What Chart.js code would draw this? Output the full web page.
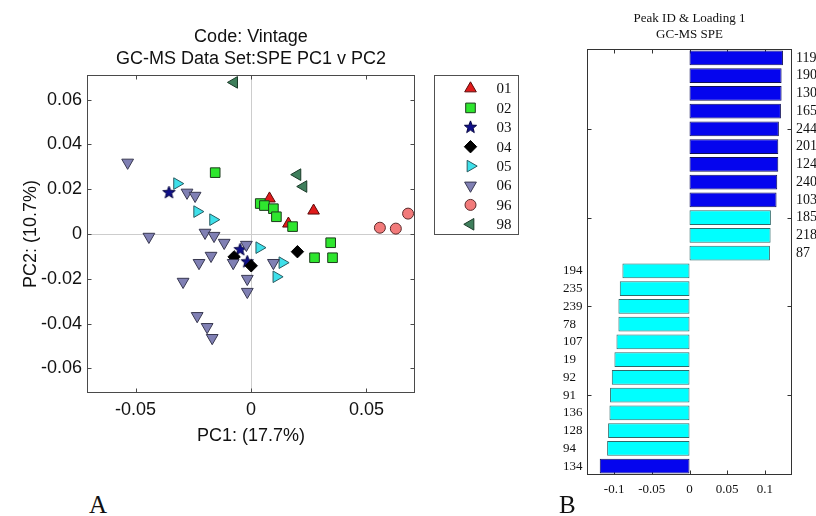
<!DOCTYPE html>
<html>
<head>
<meta charset="utf-8">
<script src="https://cdn.jsdelivr.net/npm/chart.js@4.4.1/dist/chart.umd.min.js"></script>
<style>
  html, body { margin: 0; padding: 0; background: #fff; overflow: hidden; width: 816px; height: 516px; }
  #pcaWrap { position: absolute; left: 0; top: 0; width: 530px; height: 460px; }
  #loadWrap { position: absolute; left: 540px; top: 0; width: 300px; height: 516px; }
  .panel { position: absolute; font-family: "Liberation Serif", serif; font-size: 25px; color: #111; line-height: 1; }
</style>
</head>
<body>
<div id="pcaWrap"><canvas id="pcaChart" width="530" height="460"></canvas></div>
<div id="loadWrap"><canvas id="loadChart" width="300" height="516"></canvas></div>
<div class="panel" style="left:89px; top:492px;">A</div>
<div class="panel" style="left:559px; top:492px;">B</div>
<script>
// ---------- Panel A : PC1 v PC2 scores ----------
const groupNames = ['01', '02', '03', '04', '05', '06', '96', '98'];
const g01 = [[0.0080, 0.0158], [0.0271, 0.0104], [0.0162, 0.0046]];
const g02 = [[-0.0155, 0.0274], [0.0040, 0.0136], [0.0058, 0.0127], [0.0097, 0.0113], [0.0110, 0.0077],
             [0.0180, 0.0033], [0.0345, -0.0039], [0.0275, -0.0106], [0.0353, -0.0106]];
const g03 = [[-0.0355, 0.0185], [-0.0047, -0.0070], [-0.0016, -0.0124]];
const g04 = [[-0.0073, -0.0102], [0.0001, -0.0142], [0.0201, -0.0079]];
const g05 = [[-0.0320, 0.0225], [-0.0233, 0.0100], [-0.0164, 0.0064], [0.0036, -0.0061], [0.0136, -0.0128], [0.0110, -0.0191]];
const g06 = [[-0.0534, 0.0319], [-0.0277, 0.0185], [-0.0242, 0.0171], [-0.0442, -0.0012], [-0.0199, 0.0006],
             [-0.0160, -0.0008], [-0.0116, -0.0039], [-0.0020, -0.0048], [-0.0173, -0.0097], [-0.0225, -0.0129],
             [-0.0077, -0.0129], [0.0097, -0.0129], [-0.0294, -0.0213], [-0.0016, -0.0200], [-0.0016, -0.0258],
             [-0.0233, -0.0366], [-0.0190, -0.0415], [-0.0168, -0.0464]];
const g96 = [[0.0558, 0.0028], [0.0627, 0.0024], [0.0680, 0.0091]];
const g98 = [[-0.0073, 0.0677], [0.0201, 0.0265], [0.0227, 0.0212]];
const groupScores = [g01, g02, g03, g04, g05, g06, g96, g98];

const pcRange = [-0.071, 0.071];
const pcXTicks = [-0.05, 0, 0.05];
const pcYTicks = [-0.06, -0.04, -0.02, 0, 0.02, 0.04, 0.06];

// ---------- Panel B : loading 1 ----------
const peakIds = ['119', '190', '130', '165', '244', '201', '124', '240', '103', '185', '218', '87',
                 '194', '235', '239', '78', '107', '19', '92', '91', '136', '128', '94', '134'];
const loadings = [0.1240, 0.1222, 0.1222, 0.1213, 0.1186, 0.1178, 0.1178, 0.1164, 0.1155, 0.1080, 0.1076, 0.1067,
                  -0.0890, -0.0925, -0.0943, -0.0943, -0.0969, -0.0996, -0.1031, -0.1054, -0.1062, -0.1080, -0.1093, -0.1191];
const loadRange = [-0.136, 0.136];
const loadXTicks = [-0.1, -0.05, 0, 0.05, 0.1];
const loadYTickIdx = [5, 10, 15, 20];

function makeStar(r, fill, edge) {
    const c = document.createElement('canvas');
    const s = Math.ceil(r * 2 + 4);
    c.width = s; c.height = s;
    const g = c.getContext('2d');
    g.beginPath();
    for (let k = 0; k < 10; k++) {
        const rr = k % 2 ? r * 0.42 : r;
        const a = -Math.PI / 2 + k * Math.PI / 5;
        g.lineTo(s / 2 + rr * Math.cos(a), s / 2 + rr * Math.sin(a));
    }
    g.closePath();
    g.fillStyle = fill; g.fill();
    g.strokeStyle = edge; g.lineWidth = 1; g.stroke();
    return c;
}

const groupStyles = [
    { pointStyle: 'triangle', rotation: 0,   radius: 6.7, fill: '#e01b1b', edge: '#5a0a0a' },
    { pointStyle: 'rect',     rotation: 0,   radius: 6.8, fill: '#2ee62e', edge: '#1c3c1c' },
    { pointStyle: makeStar(6.5, '#10108a', '#000040'), rotation: 0, radius: 6, fill: '#10108a', edge: '#000040' },
    { pointStyle: 'rectRot',  rotation: 0,   radius: 6.2, fill: '#000000', edge: '#000000' },
    { pointStyle: 'triangle', rotation: 90,  radius: 6.7, fill: '#3ee0ea', edge: '#2a5a60' },
    { pointStyle: 'triangle', rotation: 180, radius: 6.8, fill: '#8080b4', edge: '#383850' },
    { pointStyle: 'circle',   rotation: 0,   radius: 5.5, fill: '#f27a7a', edge: '#5a2a2a' },
    { pointStyle: 'triangle', rotation: -90, radius: 6.7, fill: '#3f7f5c', edge: '#1a3a28' }
];

const sansFont = (size) => ({ family: 'Liberation Sans', size: size, lineHeight: 1.2 });
const serifFont = (size, lh) => ({ family: 'Liberation Serif', size: size, lineHeight: lh || 1.2 });

const pcaDatasets = groupScores.map((pts, i) => ({
    label: groupNames[i],
    data: pts.map(p => ({ x: p[0], y: p[1] })),
    pointStyle: groupStyles[i].pointStyle,
    pointRotation: groupStyles[i].rotation,
    pointRadius: groupStyles[i].radius,
    pointHoverRadius: groupStyles[i].radius,
    backgroundColor: groupStyles[i].fill,
    borderColor: groupStyles[i].edge,
    borderWidth: 1,
    order: groupScores.length - i
}));

const pcaDecor = {
    id: 'pcaDecor',
    afterDatasetsDraw(chart) {
        const { ctx, chartArea: a, scales: { x, y } } = chart;
        const L = Math.round(a.left) + 0.5, R = Math.round(a.right) - 0.5;
        const T = Math.round(a.top) + 0.5, B = Math.round(a.bottom) - 0.5;
        ctx.save();
        ctx.strokeStyle = '#4a4a4a';
        ctx.lineWidth = 1;
        ctx.beginPath();
        pcXTicks.forEach(v => {
            const px = Math.round(x.getPixelForValue(v)) + 0.5;
            ctx.moveTo(px, B); ctx.lineTo(px, B - 4);
            ctx.moveTo(px, T); ctx.lineTo(px, T + 4);
        });
        pcYTicks.forEach(v => {
            const py = Math.round(y.getPixelForValue(v)) + 0.5;
            ctx.moveTo(L, py); ctx.lineTo(L + 4, py);
            ctx.moveTo(R, py); ctx.lineTo(R - 4, py);
        });
        ctx.stroke();
        ctx.strokeRect(L, T, R - L, B - T);

        // legend box, MATLAB style
        const lx = Math.round(a.right) + 19.5, ly = T, lw = 84, lh = 159;
        ctx.strokeStyle = '#505050';
        ctx.strokeRect(lx, ly, lw, lh);
        ctx.font = '15px "Liberation Serif"';
        ctx.textBaseline = 'middle';
        ctx.textAlign = 'left';
        groupNames.forEach((name, i) => {
            const st = groupStyles[i];
            const cy = ly + 13 + i * 19.4;
            ctx.fillStyle = st.fill;
            ctx.strokeStyle = st.edge;
            ctx.lineWidth = 1;
            Chart.helpers.drawPoint(ctx, { pointStyle: st.pointStyle, rotation: st.rotation, radius: st.radius, borderWidth: 1 }, lx + 36, cy);
            ctx.fillStyle = '#111';
            ctx.fillText(name, lx + 62, cy + 1);
        });
        ctx.restore();
    }
};

new Chart(document.getElementById('pcaChart'), {
    type: 'scatter',
    data: { datasets: pcaDatasets },
    options: {
        responsive: false,
        animation: false,
        devicePixelRatio: 1,
        layout: { padding: { left: 0, right: 115, top: 0, bottom: 0 } },
        plugins: {
            legend: { display: false },
            tooltip: { enabled: false },
            title: {
                display: true,
                text: ['Code: Vintage', 'GC-MS Data Set:SPE PC1 v PC2'],
                fullSize: false,
                color: '#111',
                font: { family: 'Liberation Sans', size: 18, weight: 'normal', lineHeight: 1.25 },
                padding: { top: 25.5, bottom: 4.5 }
            }
        },
        scales: {
            x: {
                type: 'linear', min: pcRange[0], max: pcRange[1],
                afterBuildTicks: s => { s.ticks = pcXTicks.map(v => ({ value: v })); },
                afterFit: s => { s.height = 67; },
                grid: { drawTicks: false, color: c => (c.tick && c.tick.value === 0) ? '#cdcdcd' : 'rgba(0,0,0,0)' },
                border: { display: false },
                ticks: { padding: 6, color: '#111', font: sansFont(18), callback: v => String(v) },
                title: { display: true, text: 'PC1: (17.7%)', color: '#111', font: sansFont(18), padding: { top: 0, bottom: 13 } }
            },
            y: {
                type: 'linear', min: pcRange[0], max: pcRange[1],
                afterBuildTicks: s => { s.ticks = pcYTicks.map(v => ({ value: v })); },
                afterFit: s => { s.width = 87; },
                grid: { drawTicks: false, color: c => (c.tick && c.tick.value === 0) ? '#cdcdcd' : 'rgba(0,0,0,0)' },
                border: { display: false },
                ticks: { padding: 5, color: '#111', font: sansFont(18), callback: v => String(v) },
                title: { display: true, text: 'PC2: (10.7%)', color: '#111', font: sansFont(18), padding: { top: 20, bottom: 0 } }
            }
        }
    },
    plugins: [pcaDecor]
});

// top ten |loading| are drawn dark blue, the rest cyan
const rankOrder = loadings.map((v, i) => i).sort((a, b) => Math.abs(loadings[b]) - Math.abs(loadings[a]));
const isStrong = i => rankOrder.indexOf(i) < 10;

const loadDecor = {
    id: 'loadDecor',
    beforeDatasetsDraw(chart) {
        const { ctx, chartArea: a, scales: { x, y } } = chart;
        const L = Math.round(a.left) + 0.5, R = Math.round(a.right) - 0.5;
        const T = Math.round(a.top) + 0.5, B = Math.round(a.bottom) - 0.5;
        ctx.save();
        ctx.strokeStyle = '#333';
        ctx.lineWidth = 1;
        ctx.beginPath();
        loadXTicks.forEach(v => {
            const px = Math.round(x.getPixelForValue(v)) + 0.5;
            ctx.moveTo(px, T); ctx.lineTo(px, T + 4);
            ctx.moveTo(px, B); ctx.lineTo(px, B - 4);
        });
        loadYTickIdx.forEach(k => {
            const py = Math.round(y.getPixelForValue(k - 1)) + 0.5;
            ctx.moveTo(L, py); ctx.lineTo(L + 4, py);
            ctx.moveTo(R, py); ctx.lineTo(R - 4, py);
        });
        ctx.stroke();
        ctx.restore();
    },
    afterDatasetsDraw(chart) {
        const { ctx, chartArea: a } = chart;
        const L = Math.round(a.left) + 0.5, R = Math.round(a.right) - 0.5;
        const T = Math.round(a.top) + 0.5, B = Math.round(a.bottom) - 0.5;
        ctx.save();
        ctx.strokeStyle = '#333';
        ctx.lineWidth = 1;
        ctx.strokeRect(L, T, R - L, B - T);
        ctx.restore();
    }
};

new Chart(document.getElementById('loadChart'), {
    type: 'bar',
    data: {
        labels: peakIds,
        datasets: [{
            data: loadings,
            backgroundColor: c => isStrong(c.dataIndex) ? '#0505ee' : '#00ffff',
            borderColor: c => isStrong(c.dataIndex) ? '#10105a' : '#2f6a6a',
            borderWidth: 1,
            borderSkipped: false,
            barPercentage: 0.83,
            categoryPercentage: 1
        }]
    },
    options: {
        indexAxis: 'y',
        responsive: false,
        animation: false,
        devicePixelRatio: 1,
        layout: { padding: { left: 23, right: 0, top: 0, bottom: 0 } },
        plugins: {
            legend: { display: false },
            tooltip: { enabled: false },
            title: {
                display: true,
                text: ['Peak ID & Loading 1', 'GC-MS SPE'],
                fullSize: false,
                color: '#111',
                font: { family: 'Liberation Serif', size: 13, weight: 'normal', lineHeight: 1.23 },
                padding: { top: 11, bottom: 6 }
            }
        },
        scales: {
            x: {
                type: 'linear', min: loadRange[0], max: loadRange[1],
                afterBuildTicks: s => { s.ticks = loadXTicks.map(v => ({ value: v })); },
                afterFit: s => { s.height = 41; },
                grid: { display: false, drawTicks: false },
                border: { display: false },
                ticks: { padding: 7, color: '#111', font: serifFont(13), callback: v => String(v) }
            },
            y: {
                type: 'category', position: 'left',
                afterFit: s => { s.width = 24; },
                grid: { display: false, drawTicks: false },
                border: { display: false },
                ticks: { autoSkip: false, crossAlign: 'far', padding: 0, color: '#111', font: serifFont(13),
                         callback: (v, i) => loadings[i] < 0 ? peakIds[i] : '' }
            },
            y2: {
                type: 'category', position: 'right', labels: peakIds, offset: true,
                afterFit: s => { s.width = 48; },
                grid: { display: false, drawTicks: false },
                border: { display: false },
                ticks: { autoSkip: false, padding: 4, color: '#111', font: serifFont(14),
                         callback: (v, i) => loadings[i] > 0 ? peakIds[i] : '' }
            }
        }
    },
    plugins: [loadDecor]
});
</script>
</body>
</html>
